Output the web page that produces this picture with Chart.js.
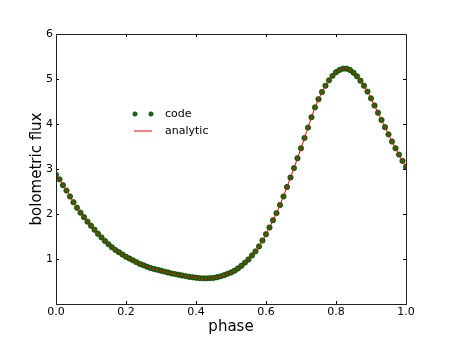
<!DOCTYPE html>
<html>
<head>
<meta charset="utf-8">
<script src="https://cdn.jsdelivr.net/npm/chart.js@4/dist/chart.umd.min.js"></script>
<style>
  body { margin: 0; background: #fff; }
  canvas { display: block; }
</style>
</head>
<body>
<canvas id="myChart" width="452" height="339"></canvas>
<script>
const phase = [
  0.00, 0.01, 0.02, 0.03, 0.04, 0.05, 0.06, 0.07, 0.08, 0.09,
  0.10, 0.11, 0.12, 0.13, 0.14, 0.15, 0.16, 0.17, 0.18, 0.19,
  0.20, 0.21, 0.22, 0.23, 0.24, 0.25, 0.26, 0.27, 0.28, 0.29,
  0.30, 0.31, 0.32, 0.33, 0.34, 0.35, 0.36, 0.37, 0.38, 0.39,
  0.40, 0.41, 0.42, 0.43, 0.44, 0.45, 0.46, 0.47, 0.48, 0.49,
  0.50, 0.51, 0.52, 0.53, 0.54, 0.55, 0.56, 0.57, 0.58, 0.59,
  0.60, 0.61, 0.62, 0.63, 0.64, 0.65, 0.66, 0.67, 0.68, 0.69,
  0.70, 0.71, 0.72, 0.73, 0.74, 0.75, 0.76, 0.77, 0.78, 0.79,
  0.80, 0.81, 0.82, 0.83, 0.84, 0.85, 0.86, 0.87, 0.88, 0.89,
  0.90, 0.91, 0.92, 0.93, 0.94, 0.95, 0.96, 0.97, 0.98, 0.99,
  1.00
];
const flux = [
  2.87, 2.77, 2.64, 2.52, 2.39, 2.26, 2.14, 2.03, 1.93, 1.83,
  1.74, 1.65, 1.56, 1.48, 1.40, 1.33, 1.26, 1.20, 1.15, 1.10,
  1.05, 1.01, 0.97, 0.93, 0.89, 0.86, 0.83, 0.80, 0.78, 0.76,
  0.74, 0.72, 0.70, 0.68, 0.665, 0.65, 0.635, 0.62, 0.605, 0.595,
  0.585, 0.575, 0.57, 0.57, 0.575, 0.58, 0.595, 0.615, 0.64, 0.67,
  0.70, 0.74, 0.79, 0.85, 0.92, 0.99, 1.08, 1.17, 1.28, 1.41,
  1.55, 1.70, 1.86, 2.02, 2.20, 2.39, 2.60, 2.81, 3.02, 3.24,
  3.46, 3.69, 3.92, 4.15, 4.37, 4.55, 4.71, 4.85, 4.97, 5.07,
  5.15, 5.20, 5.23, 5.23, 5.20, 5.14, 5.06, 4.96, 4.85, 4.72,
  4.57, 4.41, 4.25, 4.09, 3.93, 3.77, 3.61, 3.46, 3.32, 3.18,
  3.05
];
const seriesLabels = ["code", "analytic"];

const pts = phase.map((p, i) => ({ x: p, y: flux[i] }));
const FONT = "'DejaVu Sans', sans-serif";

// matplotlib-like frame, inward ticks and a frameless legend
const mplFrame = {
  id: "mplFrame",
  afterDraw(chart) {
    const ctx = chart.ctx;
    const a = chart.chartArea;
    const xs = chart.scales.x, ys = chart.scales.y;
    ctx.save();
    ctx.strokeStyle = "#000";
    ctx.lineWidth = 1;
    ctx.beginPath();
    xs.ticks.forEach(t => {
      const px = Math.round(xs.getPixelForValue(t.value)) + 0.5;
      ctx.moveTo(px, a.bottom); ctx.lineTo(px, a.bottom - 3);
      ctx.moveTo(px, a.top); ctx.lineTo(px, a.top + 3);
    });
    ys.ticks.forEach(t => {
      const py = Math.round(ys.getPixelForValue(t.value)) + 0.5;
      ctx.moveTo(a.left, py); ctx.lineTo(a.left + 3, py);
      ctx.moveTo(a.right, py); ctx.lineTo(a.right - 3, py);
    });
    ctx.stroke();
    ctx.strokeStyle = "#222";
    ctx.strokeRect(Math.round(a.left) + 0.5, Math.round(a.top) + 0.5,
                   Math.round(a.right - a.left), Math.round(a.bottom - a.top));

    // legend
    const code = chart.data.datasets[0], ana = chart.data.datasets[1];
    ctx.fillStyle = code.backgroundColor;
    ctx.strokeStyle = code.borderColor;
    ctx.lineWidth = 0.6;
    [135, 151].forEach(cx => {
      ctx.beginPath();
      ctx.arc(cx, 114, 2.2, 0, Math.PI * 2);
      ctx.fill(); ctx.stroke();
    });
    ctx.strokeStyle = ana.borderColor;
    ctx.lineWidth = 1;
    ctx.beginPath();
    ctx.moveTo(134, 131); ctx.lineTo(152, 131);
    ctx.stroke();
    ctx.fillStyle = "#000";
    ctx.font = "11px " + FONT;
    ctx.textBaseline = "middle";
    ctx.fillText(code.label, 165, 114);
    ctx.fillText(ana.label, 165, 131);
    ctx.restore();
  }
};

new Chart(document.getElementById("myChart"), {
  type: "scatter",
  data: {
    datasets: [
      {
        label: seriesLabels[0],
        data: pts,
        showLine: false,
        pointRadius: 2.7,
        pointBorderWidth: 0.6,
        backgroundColor: "#007a00",
        borderColor: "#0a2a0a",
        order: 1,
      },
      {
        label: seriesLabels[1],
        data: pts,
        showLine: true,
        pointRadius: 0,
        borderWidth: 1,
        borderColor: "#ff0000",
        backgroundColor: "#ff0000",
        tension: 0,
        order: 0,
      },
    ],
  },
  options: {
    responsive: false,
    animation: false,
    layout: {
      padding: { left: 0, right: 46, top: 34, bottom: 0 },
    },
    scales: {
      x: {
        type: "linear",
        min: 0,
        max: 1,
        grid: { display: false, drawTicks: false },
        border: { display: false },
        ticks: {
          stepSize: 0.2,
          padding: 2,
          color: "#000",
          font: { family: FONT, size: 11 },
          maxRotation: 0,
          callback: v => v.toFixed(1),
        },
        title: {
          display: true,
          text: "phase",
          color: "#000",
          font: { family: FONT, size: 15 },
          padding: { top: 0, bottom: 3 },
        },
        afterFit(scale) { scale.height = 35; },
      },
      y: {
        min: 0,
        max: 6,
        grid: { display: false, drawTicks: false },
        border: { display: false },
        ticks: {
          stepSize: 1,
          padding: 3,
          color: "#000",
          font: { family: FONT, size: 11 },
          callback: v => (v === 0 ? "" : v),
        },
        title: {
          display: true,
          text: "bolometric flux",
          color: "#000",
          font: { family: FONT, size: 15 },
          padding: { top: 28, bottom: 0 },
        },
        afterFit(scale) { scale.width = 56; },
      },
    },
    plugins: {
      legend: { display: false },
      tooltip: { enabled: false },
    },
  },
  plugins: [mplFrame],
});
</script>
</body>
</html>
